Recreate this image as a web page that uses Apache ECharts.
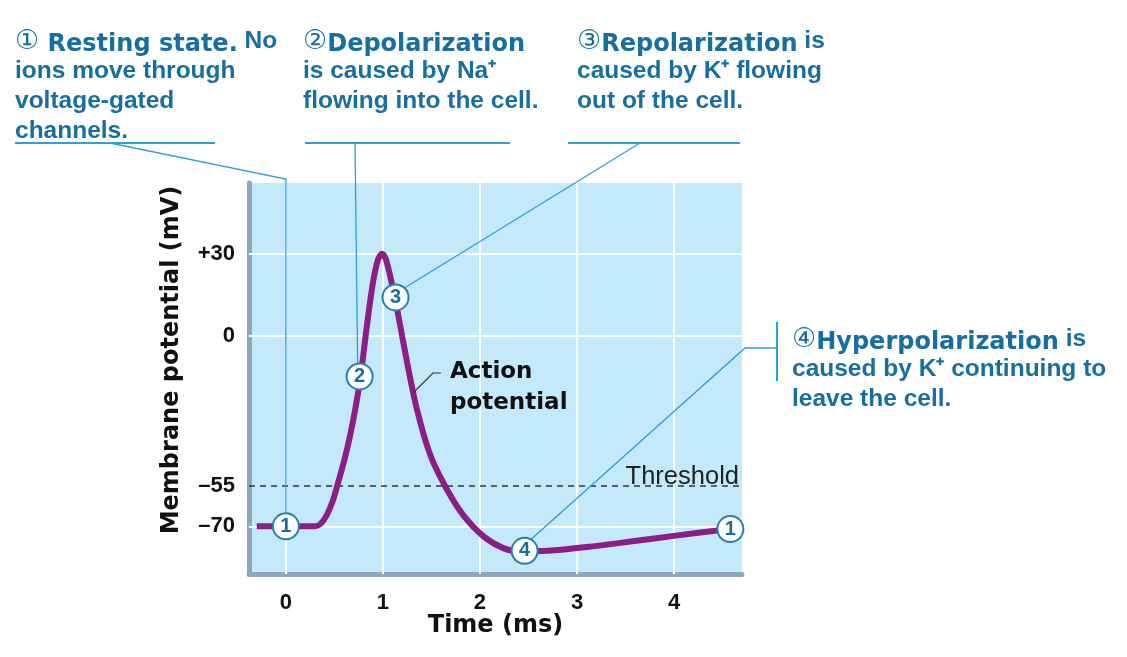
<!DOCTYPE html>
<html><head><meta charset="utf-8">
<script src="https://cdn.jsdelivr.net/npm/echarts@6/dist/echarts.min.js"></script>
<style>html,body{margin:0;padding:0;background:#fff}#c{width:1127px;height:657px}</style>
</head><body><div id="c"></div>
<script>
// ---- data ----
const timeMs = [-0.30,0.30,0.36,0.42,0.48,0.53,0.60,0.66,0.72,0.77,0.84,0.90,0.95,0.99,1.03,1.08,1.15,1.25,1.35,1.49,1.66,1.83,2.04,2.24,2.42,2.70,3.10,3.55,4.00,4.50,4.70];
const potential = [-70,-70,-69,-66,-61,-55,-46,-37,-26,-15,5,20,28,30,28,21,9,-10,-27,-44,-56.5,-66,-73.8,-78,-79.3,-79,-77.6,-75.6,-73.5,-71.3,-70.4];
const markerT = [0, 0.76, 1.13, 2.46, 4.58];
const markerV = [-70, -15, 14, -79, -71];
const markerLabels = ['1','2','3','4','1'];
const xTicks = [0,1,2,3,4];
const yTicks = [30,0,-55,-70];
const yGrid = [30,0,-70];
const thresholdV = -55;

const TXT = '#166fa0', LINE = '#2e9fd2';
const chart = echarts.init(document.getElementById('c'), null, {renderer:'canvas'});

const rich = {
  h:{fontFamily:'DejaVu Sans', fontWeight:'bold', fontSize:24, fill:TXT, lineHeight:27, verticalAlign:'bottom'},
  n:{fontFamily:'Liberation Sans', fontWeight:'bold', fontSize:24.5, fill:TXT, lineHeight:30},
  c:{fontFamily:'DejaVu Sans', fontSize:27, fill:TXT, lineHeight:30}
};

const option = {
  animation:false,
  backgroundColor:'#fff',
  grid:{left:249, right:1127-742, top:183, bottom:657-574, show:true, backgroundColor:'#c4e9fb', borderWidth:0},
  xAxis:{type:'value', min:-0.38, max:4.70,
    name:'Time (ms)', nameLocation:'middle', nameGap:40, nameMoveOverlap:false,
    nameTextStyle:{fontFamily:'DejaVu Sans', fontWeight:'bold', fontSize:24, color:'#111'},
    axisLine:{show:true, onZero:false, lineStyle:{color:'#93a6b9', width:5}},
    axisTick:{show:false}, splitLine:{show:false},
    axisLabel:{customValues:xTicks, margin:18, fontFamily:'Liberation Sans', fontWeight:'bold', fontSize:22, color:'#111'}},
  yAxis:{type:'value', min:-87.5, max:56,
    axisLine:{show:true, onZero:false, lineStyle:{color:'#93a6b9', width:5}},
    axisTick:{show:false}, splitLine:{show:false},
    axisLabel:{customValues:yTicks, margin:14, fontFamily:'Liberation Sans', fontWeight:'bold', fontSize:22, color:'#111',
      formatter:v=> v>0 ? '+'+v : (v<0 ? '\u2013'+Math.abs(v) : String(v))}},
  series:[
    {type:'line', data:[], z:1, silent:true,
      markLine:{z:1, silent:true, symbol:'none', label:{show:false},
        lineStyle:{color:'#ffffff', width:2, type:'solid'},
        data: xTicks.map(t=>({xAxis:t})).concat(yGrid.map(v=>({yAxis:v})))}},
    {type:'line', data:[], z:2, silent:true,
      markLine:{z:2, silent:true, symbol:'none',
        lineStyle:{color:'#333', width:1.5, type:[6,5]},
        label:{show:true, position:'insideEndTop', formatter:'Threshold', distance:[3,-5],
          fontFamily:'Liberation Sans', fontSize:25.5, color:'#222'},
        data:[{yAxis:thresholdV}]}},
    {type:'line', data: timeMs.map((t,i)=>[t, potential[i]]), smooth:0.3,
      showSymbol:false, z:3, lineStyle:{color:'#8b1d86', width:6}},
    {type:'scatter', data: markerT.map((t,i)=>[t, markerV[i]]), z:6, symbol:'circle', symbolSize:26,
      itemStyle:{color:'#ffffff', borderColor:'#2a7fab', borderWidth:2, opacity:1},
      label:{show:true, position:'inside', formatter:p=>markerLabels[p.dataIndex],
        fontFamily:'Liberation Sans', fontWeight:'bold', fontSize:20, color:'#1b6c9e'}}
  ]
};
chart.setOption(option);

const P = markerT.map((t,i)=>chart.convertToPixel({gridIndex:0}, [t, markerV[i]]));
const ln = (pts, w)=>({type:'polyline', z:4, shape:{points:pts}, style:{stroke:LINE, lineWidth:w||1.3, fill:null}});
const tx = (x,y,text,r,extra)=>({type:'text', z:10, left:x, top:y, style:Object.assign({text:text, rich:r}, extra||{})});

chart.setOption({graphic:[
  tx(15,28,'{c|\u2460}{h| Resting state.}{n| No}\n{n|ions move through}\n{n|voltage-gated}\n{n|channels.}', rich),
  tx(303,28,'{c|\u2461}{h|Depolarization}\n{n|is caused by Na\u207A}\n{n|flowing into the cell.}', rich),
  tx(577,28,'{c|\u2462}{h|Repolarization}{n| is}\n{n|caused by K\u207A flowing}\n{n|out of the cell.}', rich),
  tx(792,326,'{c|\u2463}{h|Hyperpolarization}{n| is}\n{n|caused by K\u207A continuing to}\n{n|leave the cell.}', rich),
  tx(450,357,'Action\npotential', null, {fontFamily:'DejaVu Sans', fontWeight:'bold', fontSize:23, fill:'#111', lineHeight:31}),
  {type:'text', z:10, x:172, y:360, rotation:Math.PI/2,
    style:{text:'Membrane potential (mV)', fontFamily:'DejaVu Sans', fontWeight:'bold', fontSize:24, fill:'#111', align:'center', verticalAlign:'middle'}},
  {type:'polyline', z:4, shape:{points:[[413,393],[433,373],[441,373]]}, style:{stroke:'#333', lineWidth:1.2, fill:null}},
  ln([[15,143],[215,143]],2), ln([[305,143],[510,143]],2), ln([[568,143],[740,143]],2),
  ln([[777,322],[777,381]],2),
  ln([[110,143],[P[0][0],179],[P[0][0],P[0][1]-13]]),
  ln([[355,143],[P[1][0]-2,P[1][1]-13]]),
  ln([[640,143],[P[2][0]+8,P[2][1]-9]]),
  ln([[777,348],[745,348],[P[3][0]+6,P[3][1]-11]])
]});
</script></body></html>
